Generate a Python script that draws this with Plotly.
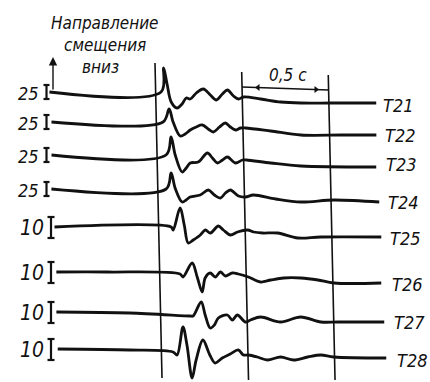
import plotly.graph_objects as go

# ---- record data -------------------------------------------------------
# time in seconds from the first time mark, deflection in record units (up = +)
stations = ["T21", "T22", "T23", "T24", "T25", "T26", "T27", "T28"]
scale_labels = ["25", "25", "25", "25", "10", "10", "10", "10"]
baselines = [92, 122, 155, 189, 227, 272, 312, 349]

t21_t = [-0.614, 0.031, 0.046, 0.066, 0.090, 0.124, 0.153, 0.177, 0.200, 0.235, 0.276, 0.316,
         0.351, 0.386, 0.415, 0.450, 0.479, 0.508, 0.607, 0.723, 0.840, 1.014, 1.275]
t21_a = [0, 0, 24, 8, -10, -16, -12, -6, -7, -1, 3, -3, -8, -2, 2, -4, -7, -5, -7, -10, -11, -11, -11]

t22_t = [-0.606, 0.039, 0.074, 0.097, 0.138, 0.167, 0.196, 0.231, 0.266, 0.300, 0.330, 0.365,
         0.399, 0.428, 0.458, 0.487, 0.516, 0.661, 0.836, 1.068, 1.272]
t22_a = [0, 0, 13, 0, -14, -12, -8, -5, -3, -7, -10, -5, -1, -5, -8, -6, -6, -9, -13, -13, -13]

t23_t = [-0.610, 0.052, 0.081, 0.105, 0.145, 0.169, 0.192, 0.238, 0.291, 0.320, 0.349, 0.378,
         0.407, 0.453, 0.494, 0.517, 0.657, 0.831, 1.267]
t23_a = [0, 0, 18, 0, -17, -13, -8, -7, 2, -3, -8, -5, -2, -8, -5, -5, -8, -11, -12]

t24_t = [-0.615, 0.048, 0.077, 0.100, 0.141, 0.164, 0.187, 0.245, 0.292, 0.327, 0.362, 0.391,
         0.420, 0.466, 0.507, 0.553, 0.681, 0.827, 1.019, 1.280]
t24_a = [0, 0, 16, 1, -13, -11, -8, -6, -1, -6, -9, -4, -1, -7, -8, -6, -10, -13, -11, -13]

t25_t = [-0.602, 0.072, 0.084, 0.124, 0.148, 0.171, 0.200, 0.241, 0.270, 0.299, 0.345, 0.374,
         0.415, 0.456, 0.514, 0.549, 0.601, 0.688, 0.805, 0.938, 1.287]
t25_a = [0, 0, -3, 19, 2, -16, -13, -8, -3, -6, 1, -3, -8, -5, -3, -5, -6, -6, -11, -10, -10]

t26_t = [-0.597, -0.300, 0.118, 0.135, 0.188, 0.217, 0.246, 0.263, 0.292, 0.322, 0.351, 0.380,
         0.420, 0.455, 0.513, 0.583, 0.642, 0.717, 0.816, 0.915, 1.008, 1.281]
t26_a = [0, 0, -2, -5, 9, -5, -20, -6, -1, -5, 0, -4, -1, -2, -5, -10, -8, -6, -6, -8, -11, -11]

t27_t = [-0.602, -0.178, 0.171, 0.188, 0.235, 0.258, 0.287, 0.311, 0.334, 0.386, 0.415, 0.444,
         0.491, 0.520, 0.578, 0.694, 0.810, 0.927, 1.025, 1.293]
t27_a = [0, -1, -4, -4, 10, -3, -16, -13, -6, -3, -8, -3, -10, -8, -5, -10, -5, -10, -10, -10]

t28_t = [-0.599, -0.183, 0.067, 0.091, 0.125, 0.148, 0.178, 0.201, 0.240, 0.280, 0.311, 0.352,
         0.398, 0.445, 0.474, 0.503, 0.555, 0.613, 0.689, 0.765, 0.846, 0.922, 0.997, 1.300]
t28_a = [0, -1, -3, -6, 22, 4, -29, -11, 9, -6, -14, -9, -5, -1, -6, -6, -8, -11, -8, -11, -8,
         -6, -8, -9]

records = [(t21_t, t21_a), (t22_t, t22_a), (t23_t, t23_a), (t24_t, t24_a),
           (t25_t, t25_a), (t26_t, t26_a), (t27_t, t27_a), (t28_t, t28_a)]

time_marks = [0.0, 0.5, 1.0]
interval_label = "0,5 с"
title_lines = ["Направление", "смещения", "вниз"]

# ---- sheet geometry ----------------------------------------------------
W, H = 430, 382
PX_PER_S = 173.0
T0_PX = 155.0            # first time mark at the top of the sheet
LEAN = 7.0 / 315.0       # time marks lean slightly to the right going down
TOP = 63.0


def sheet_x(t, y):
    """time -> x-axis value, including the lean of the drum record"""
    return t + LEAN * (y - TOP) / PX_PER_S


def px(xp):
    """horizontal sheet position -> x-axis value"""
    return (xp - T0_PX) / PX_PER_S


INK = "#111111"
FONT = "DejaVu Sans Condensed, DejaVu Sans, sans-serif"

fig = go.Figure()

# seismogram traces
for base, (tt, aa) in zip(baselines, records):
    ys = [base - a for a in aa]
    xs = [sheet_x(t, base) for t in tt]
    fig.add_trace(go.Scatter(x=xs, y=ys, mode="lines",
                             line=dict(color=INK, width=2.8, shape="spline", smoothing=0.95),
                             hoverinfo="skip", showlegend=False))

# time marks
mark_top = [63, 72, 75]
mark_bot = [378, 380, 380]
for tm, y0, y1 in zip(time_marks, mark_top, mark_bot):
    fig.add_trace(go.Scatter(x=[sheet_x(tm, y0), sheet_x(tm, y1)], y=[y0, y1], mode="lines",
                             line=dict(color=INK, width=1.6), hoverinfo="skip",
                             showlegend=False))

# interval arrow between the second and third time marks
ya, yb = 87, 90
fig.add_trace(go.Scatter(x=[sheet_x(time_marks[1], ya), sheet_x(time_marks[2], yb)], y=[ya, yb],
                         mode="lines", line=dict(color=INK, width=1.3),
                         hoverinfo="skip", showlegend=False))
fig.add_trace(go.Scatter(x=[px(258), px(316)], y=[87.5, 89.5], mode="markers",
                         marker=dict(symbol=["triangle-left", "triangle-right"], size=6,
                                     color=INK),
                         hoverinfo="skip", showlegend=False))

annotations = []
annotations.append(dict(x=px(288), y=75, text=interval_label, showarrow=False,
                        font=dict(family=FONT, size=17, color=INK, style="italic")))

# calibration labels and bars on the left
for i, (lab, base) in enumerate(zip(scale_labels, baselines)):
    big = lab == "10"
    cx = 32 if big else 28
    annotations.append(dict(x=px(cx), y=base + 1, text=lab, showarrow=False,
                            font=dict(family=FONT, size=21 if big else 18, color=INK,
                                      style="italic")))
    bx = 51 if big else 46.5
    half_up = 10 if big else 7
    half_dn = 11 if big else 7
    cap = 3.5 if big else 3
    xs = [px(bx - cap), px(bx + cap), None, px(bx), px(bx), None, px(bx - cap), px(bx + cap)]
    ys = [base - half_up, base - half_up, None, base - half_up, base + half_dn, None,
          base + half_dn, base + half_dn]
    fig.add_trace(go.Scatter(x=xs, y=ys, mode="lines", line=dict(color=INK, width=2.2),
                             hoverinfo="skip", showlegend=False))

# station names on the right
name_pos = [(398, 105), (400, 135), (401, 164), (403, 202), (405, 238), (407, 284),
            (409, 322), (412, 360)]
for name, (xp, yp) in zip(stations, name_pos):
    annotations.append(dict(x=px(xp), y=yp, text=name, showarrow=False,
                            font=dict(family=FONT, size=18, color=INK, style="italic")))

# heading
for line, (xp, yp) in zip(title_lines, [(105, 23), (105, 45), (100, 67)]):
    annotations.append(dict(x=px(xp), y=yp, text=line, showarrow=False,
                            font=dict(family=FONT, size=17, color=INK, style="italic")))

# downward-displacement direction arrow
annotations.append(dict(x=px(53), y=57, ax=px(53), ay=91, axref="x", ayref="y", text="",
                        showarrow=True, arrowhead=2, arrowsize=1.2, arrowwidth=1.4,
                        arrowcolor=INK))

fig.update_layout(
    width=W, height=H,
    margin=dict(l=0, r=0, t=0, b=0, pad=0),
    paper_bgcolor="white", plot_bgcolor="white",
    xaxis=dict(range=[px(0), px(W)], visible=False, fixedrange=True),
    yaxis=dict(range=[H, 0], visible=False, fixedrange=True),
    annotations=annotations,
    showlegend=False,
)

fig.write_html("out.html")
